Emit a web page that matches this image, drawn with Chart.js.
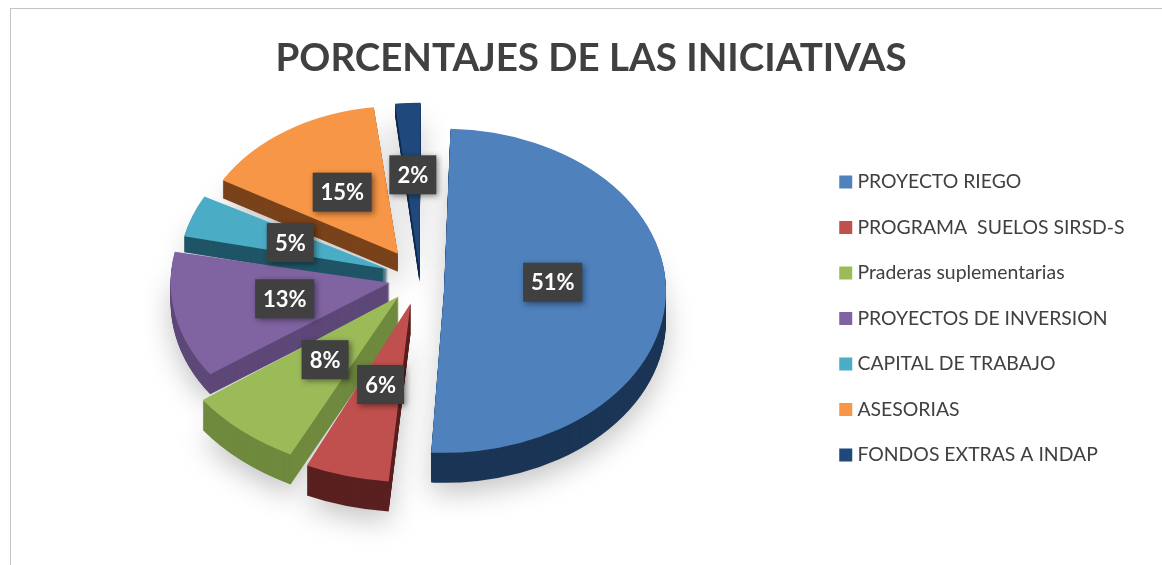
<!DOCTYPE html>
<html lang="es">
<head>
<meta charset="utf-8">
<title>Porcentajes de las iniciativas</title>
<script src="https://cdn.jsdelivr.net/npm/chart.js@4/dist/chart.umd.min.js"></script>
<style>
html,body{margin:0;padding:0;background:#fff;overflow:hidden}
#frame{position:absolute;left:10px;top:8px;right:0;bottom:0;border-left:1px solid #c4c4c4;border-top:1px solid #c4c4c4;pointer-events:none}
canvas{display:block}
</style>
</head>
<body>
<canvas id="c" width="1162" height="565"></canvas>
<div id="frame"></div>
<script>
const titleText = "PORCENTAJES DE LAS INICIATIVAS";
const categories = ["PROYECTO RIEGO","PROGRAMA  SUELOS SIRSD-S","Praderas suplementarias","PROYECTOS DE INVERSION","CAPITAL DE TRABAJO","ASESORIAS","FONDOS EXTRAS A INDAP"];
const values = [51,6,8,13,5,15,2];
const topColors = ["#4f81bd","#c0504d","#9bbb59","#8064a2","#4bacc6","#f79646","#1f497d"];
const sideColors = ["#1b3556","#5a2020","#6f8a3e","#5d4878","#1f5566","#7a431b","#12294a"];
const sliceOffsets = [96,144,132,124,136,160,44];
const sliceRadii = [222,245,242,219,209,202,229];
const sliceDepths = [30,30,30,20,16,18,12];
const sliceLift = [12,0,0,0,0,0,0];
const labelFractions = [0.49,0.47,0.47,0.49,0.5,0.5,0.57];
const paintOrder = [6,5,4,3,2,1,0];
const squash = 0.73;
const centre = {x:420,y:278};

function place(ctx, arc, extraY){
  ctx.translate(centre.x, centre.y + (extraY||0));
  ctx.scale(1, squash);
  ctx.translate(-arc.x, -arc.y);
}
function drawArcWith(ctx, arc, color){
  const saved = arc.options;
  const o = Object.create(saved);
  o.backgroundColor = color; o.borderColor = color; o.borderWidth = 0;
  arc.options = o;
  arc.draw(ctx);
  arc.options = saved;
}
const pie3d = {
  id:'pie3d',
  afterDatasetsUpdate(chart){
    const meta = chart.getDatasetMeta(0);
    meta.data.forEach((arc,i)=>{
      const fix = 1 - Math.sin(Math.min(Math.PI, arc.circumference));
      arc.outerRadius = sliceRadii[i] - sliceOffsets[i]/4*fix;
    });
  },
  beforeDatasetsDraw(chart){
    const ctx = chart.ctx, arcs = chart.getDatasetMeta(0).data;
    ctx.save();
    ctx.filter = 'blur(14px)';
    arcs.forEach((arc,i)=>{
      ctx.save(); place(ctx,arc,sliceLift[i]+sliceDepths[i]+10); drawArcWith(ctx,arc,'#c4c4c4'); ctx.restore();
    });
    ctx.restore();
    paintOrder.forEach(i=>{
      const arc = arcs[i];
      for(let d=sliceDepths[i]; d>0; d--){
        ctx.save(); place(ctx,arc,sliceLift[i]+d); drawArcWith(ctx,arc,sideColors[i]); ctx.restore();
      }
      ctx.save(); place(ctx,arc,sliceLift[i]); drawArcWith(ctx,arc,topColors[i]); ctx.restore();
    });
    return false;
  },
  afterDraw(chart){
    const ctx = chart.ctx, arcs = chart.getDatasetMeta(0).data;
    arcs.forEach((arc,i)=>{
      const mid = (arc.startAngle+arc.endAngle)/2;
      const dist = sliceRadii[i]*labelFractions[i] + sliceOffsets[i]/4;
      const x = centre.x + Math.cos(mid)*dist;
      const y = centre.y + Math.sin(mid)*dist*squash;
      const w = values[i] >= 10 ? 59 : 47, h = 39;
      ctx.save();
      ctx.shadowColor='rgba(0,0,0,.45)'; ctx.shadowBlur=6; ctx.shadowOffsetX=2; ctx.shadowOffsetY=2;
      ctx.fillStyle='#404040';
      ctx.fillRect(x-w/2,y-h/2,w,h);
      ctx.shadowColor='transparent';
      ctx.fillStyle='#fff';
      ctx.font='bold 22px Lato';
      ctx.textAlign='center'; ctx.textBaseline='middle';
      ctx.fillText(values[i]+'%',x,y+1);
      ctx.restore();
    });
  }
};
new Chart(document.getElementById('c'),{
  type:'pie',
  data:{labels:categories,datasets:[{data:values,backgroundColor:topColors,borderWidth:0,offset:sliceOffsets}]},
  plugins:[pie3d],
  options:{
    responsive:false,
    animation:false,
    rotation:0.7,
    radius:224,
    layout:{padding:{left:47.5,right:27.5,top:0,bottom:-72}},
    plugins:{
      tooltip:{enabled:false},
      title:{display:true,text:titleText,color:'#404040',font:{family:'Lato',size:38.5,weight:'bold'},padding:{top:35,bottom:10}},
      legend:{position:'right',labels:{color:'#404040',font:{family:'Lato',size:19.4},usePointStyle:true,pointStyle:'rect',boxWidth:4,boxHeight:13,padding:26.1}}
    }
  }
});
</script>
</body>
</html>
